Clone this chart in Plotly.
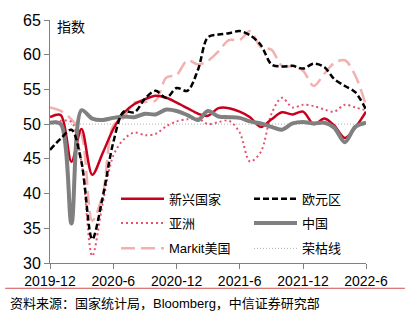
import plotly.graph_objects as go
import pandas as pd

months = [d.strftime("%Y-%m-%d") for d in pd.date_range("2019-12-01", "2022-06-01", freq="MS")]

em = [51.0, 51.3, 44.6, 49.3, 42.7, 45.8, 49.3, 51.6, 52.9, 53.6, 54.1, 53.8, 53.1,
      52.3, 51.5, 51.2, 52.3, 52.3, 51.8, 51.0, 49.6, 50.7, 51.7, 51.4, 51.8, 50.0,
      50.8, 49.8, 48.0, 49.5, 51.8]
euro = [46.3, 47.9, 49.2, 44.5, 33.4, 39.4, 47.4, 51.8, 51.7, 53.7, 54.8, 53.8, 55.2,
        54.8, 57.9, 62.5, 62.9, 63.1, 63.4, 62.8, 61.4, 58.6, 58.3, 58.4, 58.0, 58.7,
        58.2, 56.5, 55.5, 54.6, 52.1]
asia = [50.2, 50.5, 50.3, 44.5, 31.0, 38.5, 45.5, 47.8, 48.8, 48.4, 48.6, 49.7, 50.4,
        50.7, 50.8, 50.0, 50.3, 50.5, 48.8, 44.6, 46.0, 51.5, 53.8, 52.4, 52.8, 52.6,
        52.1, 51.8, 52.8, 52.4, 52.0]
china = [50.2, 50.0, 35.7, 52.0, 50.8, 50.6, 50.9, 51.1, 51.0, 51.5, 51.4, 52.1, 51.9,
         51.3, 50.6, 51.9, 51.1, 51.0, 50.9, 50.4, 50.1, 49.6, 49.2, 50.1, 50.3, 50.1,
         50.2, 49.5, 47.4, 49.6, 50.2]
us = [52.4, 51.9, 50.7, 48.5, 36.1, 39.8, 49.8, 50.9, 53.1, 53.2, 53.4, 56.7, 57.1,
      59.2, 58.6, 59.1, 60.5, 62.1, 62.1, 63.4, 61.1, 60.7, 58.4, 58.3, 57.7, 55.5,
      57.3, 58.8, 59.2, 57.0, 52.7]
threshold = [50.0] * len(months)

tick_vals = ["2019-12-01", "2020-06-01", "2020-12-01", "2021-06-01", "2021-12-01", "2022-06-01"]
tick_text = ["2019-12", "2020-6", "2020-12", "2021-6", "2021-12", "2022-6"]

FONT = "Liberation Sans, Arial, Noto Sans CJK SC"

fig = go.Figure()
sm = 0.9
fig.add_trace(go.Scatter(x=months, y=threshold, name="荣枯线", mode="lines", legend="legend3", legendrank=2,
                         line=dict(color="#B0B0B0", width=1, dash="1px,2px")))
fig.add_trace(go.Scatter(x=months, y=us, name="Markit美国", mode="lines", legend="legend3", legendrank=1,
                         line=dict(color="#F4AFAF", width=2.5, dash="14px,6px", shape="spline", smoothing=sm)))
fig.add_trace(go.Scatter(x=months, y=asia, name="亚洲", mode="lines", legend="legend2", legendrank=1,
                         line=dict(color="#E8506E", width=2, dash="2px,3px", shape="spline", smoothing=sm)))
fig.add_trace(go.Scatter(x=months, y=em, name="新兴国家", mode="lines", legend="legend", legendrank=1,
                         line=dict(color="#C8001E", width=2.5, shape="spline", smoothing=sm)))
fig.add_trace(go.Scatter(x=months, y=china, name="中国", mode="lines", legend="legend2", legendrank=2,
                         line=dict(color="#808080", width=4, shape="spline", smoothing=sm)))
fig.add_trace(go.Scatter(x=months, y=euro, name="欧元区", mode="lines", legend="legend", legendrank=2,
                         line=dict(color="#000000", width=2.5, dash="6px,3px", shape="spline", smoothing=sm)))

def leg(ycenter):
    return dict(orientation="h", x=(116 - 50) / 316, y=(263 - ycenter) / 250, xanchor="left",
                yanchor="middle", entrywidth=75, entrywidthmode="pixels", itemwidth=43,
                bgcolor="rgba(0,0,0,0)", font=dict(size=13))

fig.update_layout(
    width=408, height=323,
    margin=dict(l=50, r=42, t=13, b=60),
    paper_bgcolor="white", plot_bgcolor="white",
    font=dict(family=FONT, size=13, color="#000000"),
    showlegend=True,
    legend=leg(197), legend2=leg(222), legend3=leg(248),
    xaxis=dict(type="date", range=["2019-12-01", "2022-06-01"], tickvals=tick_vals, ticktext=tick_text,
               showgrid=False, zeroline=False, showline=True, linecolor="#808080", linewidth=1,
               ticks="outside", ticklen=5, tickcolor="#808080", tickfont=dict(size=14)),
    yaxis=dict(range=[30, 65], dtick=5, tick0=30, showgrid=False, zeroline=False, showline=True,
               linecolor="#808080", linewidth=1, ticks="outside", ticklen=5, tickcolor="#808080",
               tickfont=dict(size=16)),
)

fig.add_annotation(text="指数", xref="paper", yref="paper", x=0.016, y=0.972, xanchor="left",
                   yanchor="middle", showarrow=False, font=dict(size=14))
fig.add_shape(type="line", xref="paper", yref="paper", x0=-0.142, x1=1.123, y0=-0.104, y1=-0.104,
              line=dict(color="#D05050", width=1))
fig.add_annotation(text="资料来源：国家统计局，Bloomberg，中信证券研究部", xref="paper", yref="paper",
                   x=-0.133, y=-0.165, xanchor="left", yanchor="middle", showarrow=False,
                   font=dict(size=13))

fig.write_html("out.html")
